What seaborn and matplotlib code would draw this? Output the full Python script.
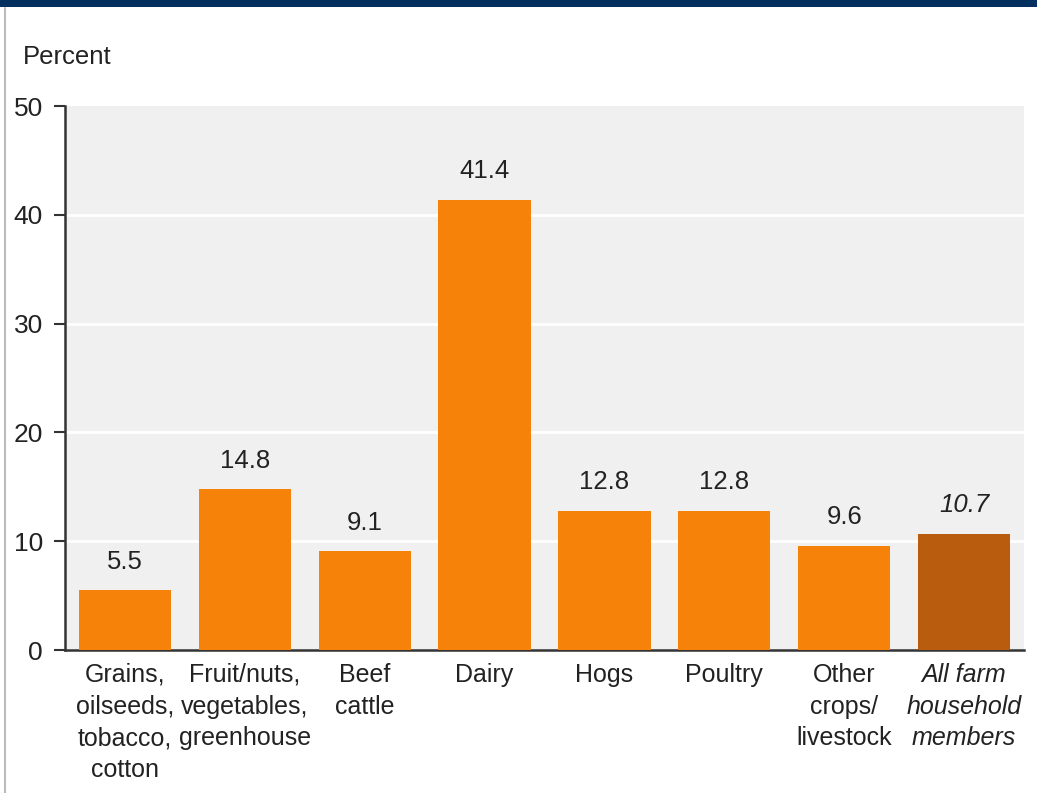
import matplotlib
matplotlib.use("Agg")
import matplotlib.pyplot as plt
import seaborn as sns
import pandas as pd
from matplotlib.lines import Line2D
from matplotlib.patches import Rectangle

# data
categories = ["Grains,\noilseeds,\ntobacco,\ncotton",
              "Fruit/nuts,\nvegetables,\ngreenhouse",
              "Beef\ncattle",
              "Dairy",
              "Hogs",
              "Poultry",
              "Other\ncrops/\nlivestock",
              "All farm\nhousehold\nmembers"]
values = [5.5, 14.8, 9.1, 41.4, 12.8, 12.8, 9.6, 10.7]
value_labels = ["5.5", "14.8", "9.1", "41.4", "12.8", "12.8", "9.6", "10.7"]
yticks = [0, 10, 20, 30, 40, 50]

orange = "#f7820a"
dark = "#b95c0e"
colors = [orange] * 7 + [dark]

sns.set_style("white")
plt.rcParams["font.family"] = ["Liberation Sans", "DejaVu Sans"]

df = pd.DataFrame({"cat": categories, "val": values})

fig = plt.figure(figsize=(10.37, 7.93), dpi=100)
ax = fig.add_axes([0.0627, 0.1803, 0.9248, 0.686])
ax.set_facecolor("#f0f0f0")

sns.barplot(data=df, x="cat", y="val", hue="cat", palette=colors,
            legend=False, width=0.77, saturation=1, linewidth=0,
            ax=ax, zorder=3)

ax.set_ylim(0, 50)
ax.set_xlim(-0.5, len(categories) - 0.5)
ax.set_yticks(yticks)
ax.set_yticklabels([str(t) for t in yticks], fontsize=19, color="#222222")
for t in yticks[1:-1]:
    ax.axhline(t, color="white", lw=2, zorder=1)

ax.tick_params(axis="y", length=8, width=1.5, color="#333333", pad=8, left=True)
ax.tick_params(axis="x", length=0, pad=9)
ax.set_xticks(range(len(categories)))
ax.set_xticklabels(categories, fontsize=18, color="#222222", linespacing=1.42)
ax.get_xticklabels()[-1].set_style("italic")

for s in ["top", "right"]:
    ax.spines[s].set_visible(False)
for s in ["left", "bottom"]:
    ax.spines[s].set_color("#333333")
    ax.spines[s].set_linewidth(1.8)
ax.set_xlabel("")
ax.set_ylabel("")

for i, (v, lab) in enumerate(zip(values, value_labels)):
    ax.text(i, v + 1.5, lab, ha="center", va="bottom", fontsize=18.5,
            color="#222222", style="italic" if i == len(values) - 1 else "normal")

fig.text(23 / 1037, 1 - 57 / 793, "Percent", ha="left", va="center",
         fontsize=18.5, color="#222222")

# navy band at the top and thin frame line at the left
fig.add_artist(Rectangle((0, 1 - 7 / 793), 1, 7 / 793, transform=fig.transFigure,
                         color="#03305f", lw=0))
fig.add_artist(Line2D([5 / 1037, 5 / 1037], [0, 1 - 8 / 793], transform=fig.transFigure,
                      color="#bbbbbb", lw=1.5))

fig.savefig("out.png", dpi=100)
